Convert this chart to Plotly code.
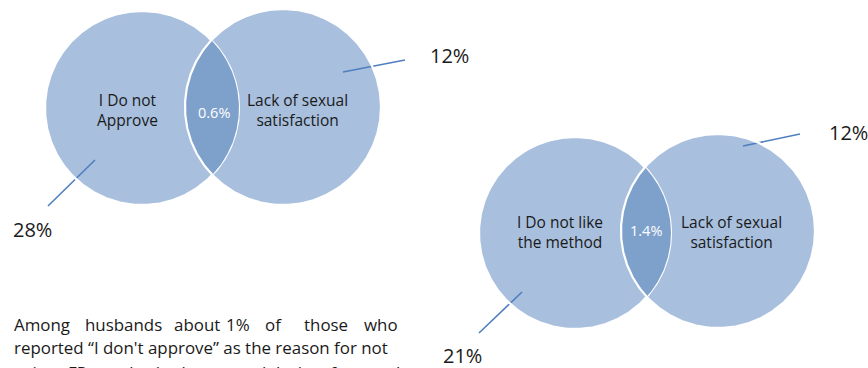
import numpy as np
import plotly.graph_objects as go

# ---- values -------------------------------------------------------------
# Panel A: "I Do not Approve" vs "Lack of sexual satisfaction"
set_labels_a = ["I Do not<br>Approve", "Lack of sexual<br>satisfaction"]
set_pct_a = [28, 12]
overlap_pct_a = 0.6

# Panel B: "I Do not like the method" vs "Lack of sexual satisfaction"
set_labels_b = ["I Do not like<br>the method", "Lack of sexual<br>satisfaction"]
set_pct_b = [21, 12]
overlap_pct_b = 1.4

# Explanatory paragraph (justified lines are split into words)
note_line1 = ["Among", "husbands", "about", "1%", "of", "those", "who"]
note_line2 = "reported \u201cI don't approve\u201d as the reason for not"
note_line3 = ["using", "FP", "method,", "also", "stated", "lack", "of", "sexual"]

# ---- layout geometry (pixel space) --------------------------------------
W, H = 868, 368
FILL = "#A8BFDE"
LENS = "#7EA1CC"
LEADER = "#4F7FBF"
TXT = "#1a1a1a"
FONT = "Open Sans"
NOTE_SIZE = 16.9

panels = [
    dict(circles=[(142, 108, 97), (283, 107, 98)],
         labels=set_labels_a, label_xy=[(127, 110), (297, 110)],
         pct=set_pct_a, overlap=overlap_pct_a, overlap_xy=(214, 112),
         pct_xy=[(32, 229), (449, 55)],
         leaders=[((95, 160), (48, 206)), ((343, 72), (405, 60))]),
    dict(circles=[(575, 233, 96), (718, 231, 97)],
         labels=set_labels_b, label_xy=[(560, 232), (731, 232)],
         pct=set_pct_b, overlap=overlap_pct_b, overlap_xy=(646, 230),
         pct_xy=[(462, 355), (848, 132)],
         leaders=[((522, 292), (479, 333)), ((743, 146), (800, 134))]),
]

line1_x = [12, 83, 172, 224, 263, 302, 362]
line3_x = [12, 66, 96, 170, 215, 274, 318, 348]


def circle_xy(cx, cy, r, t):
    return cx + r * np.cos(t), cy + r * np.sin(t)


def lens_path(c1, c2):
    (x1, y1, r1), (x2, y2, r2) = c1, c2
    t = np.linspace(-np.pi, np.pi, 2000)
    # arc of circle 1 lying inside circle 2
    ax, ay = circle_xy(x1, y1, r1, t)
    m1 = (ax - x2) ** 2 + (ay - y2) ** 2 <= r2 ** 2
    # arc of circle 2 lying inside circle 1
    t2 = np.linspace(0, 2 * np.pi, 2000)
    bx, by = circle_xy(x2, y2, r2, t2)
    m2 = (bx - x1) ** 2 + (by - y1) ** 2 <= r1 ** 2
    return (np.concatenate([ax[m1], bx[m2]]),
            np.concatenate([ay[m1], by[m2]]))


fig = go.Figure()
theta = np.linspace(0, 2 * np.pi, 361)

for p in panels:
    (c1, c2) = p["circles"]
    # circle fills
    for (cx, cy, r) in (c1, c2):
        x, y = circle_xy(cx, cy, r, theta)
        fig.add_trace(go.Scatter(x=x, y=y, mode="lines", fill="toself",
                                 fillcolor=FILL, line=dict(width=0),
                                 hoverinfo="skip", showlegend=False))
    # leader lines
    for (a, b) in p["leaders"]:
        fig.add_trace(go.Scatter(x=[a[0], b[0]], y=[a[1], b[1]], mode="lines",
                                 line=dict(color=LEADER, width=1.6),
                                 hoverinfo="skip", showlegend=False))
    # white outline of the first circle
    x, y = circle_xy(*c1, theta)
    fig.add_trace(go.Scatter(x=x, y=y, mode="lines",
                             line=dict(color="white", width=2.2),
                             hoverinfo="skip", showlegend=False))
    # overlap
    lx, ly = lens_path(c1, c2)
    fig.add_trace(go.Scatter(x=lx, y=ly, mode="lines", fill="toself",
                             fillcolor=LENS, line=dict(width=0),
                             hoverinfo="skip", showlegend=False))
    # white outline of the second circle
    x, y = circle_xy(*c2, theta)
    fig.add_trace(go.Scatter(x=x, y=y, mode="lines",
                             line=dict(color="white", width=2.2),
                             hoverinfo="skip", showlegend=False))

annotations = []
for p in panels:
    for lab, (x, y) in zip(p["labels"], p["label_xy"]):
        annotations.append(dict(x=x, y=y, text=lab, showarrow=False,
                                xanchor="center", yanchor="middle",
                                font=dict(family=FONT, size=15.5, color=TXT)))
    ox, oy = p["overlap_xy"]
    annotations.append(dict(x=ox, y=oy, text=f"{p['overlap']}%", showarrow=False,
                            xanchor="center", yanchor="middle",
                            font=dict(family=FONT, size=14.5, color="white")))
    for v, (x, y) in zip(p["pct"], p["pct_xy"]):
        annotations.append(dict(x=x, y=y, text=f"{v}%", showarrow=False,
                                xanchor="center", yanchor="middle",
                                font=dict(family=FONT, size=20, color=TXT)))

for w, x in zip(note_line1, line1_x):
    annotations.append(dict(x=x, y=324, text=w, showarrow=False,
                            xanchor="left", yanchor="middle",
                            font=dict(family=FONT, size=NOTE_SIZE, color=TXT)))
annotations.append(dict(x=12, y=347, text=note_line2, showarrow=False,
                        xanchor="left", yanchor="middle",
                        font=dict(family=FONT, size=NOTE_SIZE, color=TXT)))
# last paragraph line runs past the bottom edge of the page
for w, x in zip(note_line3, line3_x):
    annotations.append(dict(x=x, y=H, yshift=-4, text=w, showarrow=False,
                            xanchor="left", yanchor="middle",
                            font=dict(family=FONT, size=NOTE_SIZE, color=TXT)))

fig.update_layout(
    width=W, height=H,
    margin=dict(l=0, r=0, t=0, b=0),
    paper_bgcolor="white", plot_bgcolor="white",
    xaxis=dict(range=[0, W], visible=False, fixedrange=True),
    yaxis=dict(range=[H, 0], visible=False, fixedrange=True),
    annotations=annotations,
    showlegend=False,
)

fig.write_html("out.html")
